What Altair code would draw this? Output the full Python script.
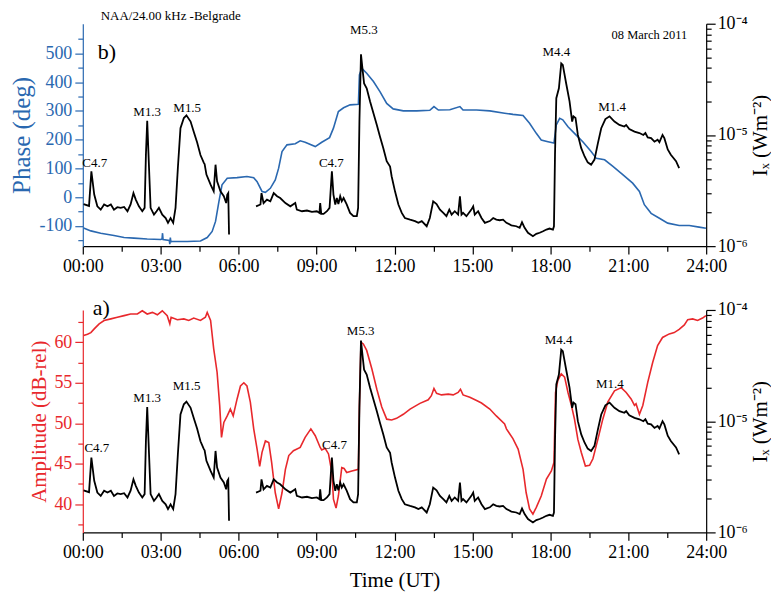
import altair as alt
import pandas as pd

SERIF = "Liberation Serif"
BLUE = "#2a68b0"
RED = "#e8282c"

# ---- GOES X-ray flux (units of 1e-6 W m^-2); data gap 05:38-06:40 ----
xray_t1 = [0.03,0.24,0.33,0.44,0.56,0.69,0.82,0.95,1.08,1.20,1.33,1.46,1.59,1.72,1.84,1.95,2.04,2.16,2.29,2.38,
           2.43,2.48,2.55,2.61,2.74,2.84,2.93,3.06,3.19,3.28,3.38,3.48,3.57,3.66,3.76,3.89,3.99,4.15,4.28,4.40,
           4.53,4.66,4.69,4.76,4.92,5.04,5.11,5.17,5.30,5.43,5.52,5.56,5.60,5.63]
xray_f1 = [2.39,2.30,4.70,2.91,2.28,2.13,2.37,2.28,2.37,2.13,2.24,2.21,2.25,2.06,2.37,3.00,2.62,2.28,2.06,2.21,
           6.64,13.4,5.04,2.21,1.92,2.06,2.21,1.92,1.79,1.62,1.79,1.62,2.21,5.04,11.5,14.2,15.0,13.2,10.5,8.6,
           6.6,5.6,5.47,4.4,3.57,3.11,5.4,3.83,3.11,2.81,2.44,2.9,3.0,1.27]
xray_t2 = [6.67,6.84,6.88,6.96,7.09,7.22,7.35,7.48,7.60,7.80,7.99,8.18,8.24,8.44,8.63,8.82,9.01,9.11,9.14,9.18,
           9.27,9.40,9.50,9.59,9.65,9.72,9.78,9.84,9.91,9.97,10.04,10.16,10.29,10.42,10.55,10.60,10.65,10.71,10.78,10.83,
           10.93,11.06,11.19,11.32,11.44,11.57,11.70,11.83,11.89,12.02,12.15,12.28,12.40,12.60,12.79,12.92,13.05,13.24,13.36,13.49,
           13.62,13.75,13.88,14.00,14.11,14.20,14.32,14.45,14.52,14.58,14.64,14.77,14.96,15.03,15.09,15.22,15.35,15.48,15.67,15.80,
           15.92,16.05,16.18,16.31,16.50,16.69,16.82,16.91,17.01,17.14,17.33,17.46,17.59,17.72,17.85,17.97,18.10,18.14,18.18,18.23,
           18.33,18.42,18.48,18.61,18.74,18.84,18.89,18.97,19.06,19.19,19.32,19.44,19.57,19.70,19.83,19.96,20.12,20.28,20.47,20.66,
           20.85,20.92,21.04,21.24,21.43,21.58,21.66,21.75,21.88,22.01,22.13,22.20,22.32,22.39,22.52,22.64,22.84,22.96]
xray_f2 = [2.28,2.37,3.00,2.44,2.62,2.53,3.00,2.81,2.71,2.44,2.28,2.44,2.13,2.06,2.09,2.03,2.06,1.99,2.44,1.95,
           1.95,2.06,2.21,4.70,2.91,2.37,2.71,2.39,2.81,2.53,2.71,2.37,1.99,1.86,1.86,2.21,13.2,53.0,37.0,29.0,
           26.3,20.0,15.7,12.3,9.7,7.6,5.8,5.2,4.25,3.11,2.37,1.99,1.79,1.73,1.68,1.62,1.68,1.51,1.79,2.53,
           2.39,2.13,1.99,1.86,2.13,1.92,2.06,1.92,2.81,1.92,1.99,1.86,2.13,2.28,1.92,2.06,1.79,1.62,1.68,1.79,
           1.73,1.71,1.73,1.62,1.54,1.51,1.46,1.64,1.46,1.32,1.23,1.29,1.32,1.36,1.41,1.44,1.41,1.51,6.64,21.4,
           26.3,44.0,42.6,29.0,20.0,13.2,14.7,14.2,10.0,7.6,6.4,5.67,5.4,6.0,8.4,11.5,13.9,14.7,13.2,12.3,
           11.9,12.3,11.3,10.7,10.4,10.0,10.4,9.5,9.36,8.7,9.06,8.6,10.0,9.36,7.4,6.64,5.8,5.04]

# ---- VLF phase (deg) ----
phase_t = [0.03,0.31,0.69,1.20,1.59,1.97,2.48,3.00,3.05,3.07,3.09,3.33,3.35,3.37,3.39,3.44,4.02,4.53,4.79,4.98,
           5.11,5.24,5.36,5.56,5.94,6.32,6.58,6.71,6.90,7.03,7.22,7.41,7.54,7.67,7.86,8.18,8.37,8.56,8.95,9.20,
           9.50,9.65,9.84,10.04,10.29,10.61,10.65,10.74,10.93,11.19,11.44,11.70,11.95,12.34,12.86,13.36,13.52,13.69,14.13,14.52,
           14.64,15.16,15.67,16.24,16.56,16.95,17.20,17.46,17.65,17.91,18.14,18.23,18.36,18.48,18.68,18.93,19.25,19.57,19.77,20.09,
           20.41,20.80,21.17,21.43,21.62,21.88,22.20,22.52,22.96,23.35,23.73,23.99]
phase_v = [-107,-117,-125,-133,-140,-142,-145,-147,-145,-125,-147,-150,-163,-140,-155,-154,-154,-152,-140,-119,
           -84,-15,43,66,68,72,68,54,20,17,31,60,101,159,182,186,196,191,176,191,
           207,240,298,311,321,323,425,448,431,402,367,326,307,300,300,302,315,303,304,315,
           303,303,300,292,288,284,257,222,199,193,188,251,274,269,245,222,193,159,135,130,
           107,78,49,20,-26,-56,-73,-90,-98,-98,-104,-108]

# ---- VLF amplitude (dB-rel) ----
amp_t = [0.03,0.18,0.31,0.44,0.63,0.82,1.08,1.33,1.59,1.84,2.10,2.29,2.48,2.68,2.87,3.06,3.25,3.35,3.40,3.64,
         3.89,4.08,4.27,4.53,4.72,4.79,4.92,5.04,5.17,5.27,5.34,5.43,5.56,5.68,5.79,5.94,6.07,6.20,6.32,6.45,
         6.58,6.71,6.81,6.90,7.03,7.16,7.27,7.41,7.54,7.67,7.80,7.93,8.11,8.37,8.56,8.78,8.95,9.14,9.20,9.33,
         9.46,9.59,9.65,9.75,9.84,9.97,10.06,10.16,10.36,10.61,10.65,10.71,10.80,10.93,11.13,11.32,11.51,11.70,11.89,12.08,
         12.34,12.60,12.98,13.30,13.42,13.52,13.62,13.81,14.07,14.26,14.45,14.54,14.64,14.90,15.16,15.35,15.67,15.92,16.24,16.31,
         16.56,16.76,16.95,17.07,17.20,17.33,17.46,17.65,17.85,18.04,18.14,18.20,18.29,18.42,18.55,18.68,18.81,18.93,19.06,19.19,
         19.35,19.51,19.64,19.83,20.02,20.21,20.47,20.73,20.92,21.11,21.24,21.30,21.43,21.56,21.75,21.94,22.13,22.32,22.58,22.77,
         22.96,23.16,23.29,23.48,23.67,23.86,23.99]
amp_v = [60.83,61.0,61.2,61.66,62.28,62.7,62.9,63.1,63.3,63.5,63.5,63.9,63.5,63.7,63.4,63.9,63.3,62.3,63.1,62.8,
         62.9,62.7,63.0,62.7,63.1,63.7,62.7,59.2,56.3,52.2,48.25,50.1,50.9,51.75,50.9,53.0,54.6,55.0,54.6,52.6,
         49.3,46.8,44.65,46.4,47.8,47.6,45.15,41.4,39.4,41.4,44.3,46.0,46.6,47.0,48.25,49.3,48.45,47.0,46.7,46.9,
         46.2,43.9,40.6,39.5,41.0,44.5,44.4,43.9,44.1,44.3,52.2,60.0,59.8,59.0,56.7,54.2,52.0,50.5,50.4,50.6,
         51.1,51.75,52.45,52.9,53.4,54.3,53.7,53.5,53.6,53.5,53.8,54.2,53.5,53.2,52.8,52.5,51.75,50.9,49.9,49.3,
         48.1,46.8,44.3,41.4,39.4,38.76,39.6,41.0,43.1,44.1,45.15,53.8,55.3,56.1,55.7,53.8,52.2,50.5,48.0,46.4,
         44.7,44.8,45.6,48.0,50.5,52.6,54.0,54.4,53.8,53.0,52.2,52.4,51.1,52.2,55.05,57.5,59.6,60.6,61.04,61.2,
         61.6,62.15,62.8,62.9,62.7,63.0,63.3]

# ---- flare labels (time, flux position of label in 1e-6 W m^-2) ----
flare_names = ["C4.7", "M1.3", "M1.5", "C4.7", "M5.3", "M4.4", "M1.4"]
flare_top_t = [0.46, 2.48, 4.02, 9.57, 10.82, 18.23, 20.38]
flare_top_f = [5.55, 16.1, 17.3, 5.6, 87.8, 56.0, 17.7]
flare_bot_t = [0.54, 2.48, 4.00, 9.69, 10.70, 18.32, 20.29]
flare_bot_f = [5.68, 16.2, 20.8, 6.1, 64.4, 53.5, 21.8]

hour_ticks = [1.5 * i for i in range(17)]
phase_ticks = list(range(-150, 551, 50))
amp_ticks = [37.5 + 2.5 * i for i in range(11)]
flux_ticks = [m * 10.0 ** e for e in (-6, -5) for m in range(1, 10)] + [1e-4]

# ---- data frames ----
xray_df = pd.DataFrame({
    "t": xray_t1 + xray_t2,
    "flux": [v * 1e-6 for v in xray_f1 + xray_f2],
    "seg": ["a"] * len(xray_t1) + ["b"] * len(xray_t2),
})
phase_df = pd.DataFrame({"t": phase_t, "phase": phase_v})
amp_df = pd.DataFrame({"t": amp_t, "amp": amp_v})
flare_top_df = pd.DataFrame({"t": flare_top_t, "flux": [v * 1e-6 for v in flare_top_f], "name": flare_names})
flare_bot_df = pd.DataFrame({"t": flare_bot_t, "flux": [v * 1e-6 for v in flare_bot_f], "name": flare_names})
one = pd.DataFrame({"k": [0]})

MAJOR_FLUX = "datum.value == 0.000001 || datum.value == 0.00001 || datum.value == 0.0001"
FONTS = dict(labelFont=SERIF, titleFont=SERIF, titleFontWeight="normal")


def xenc(title=None):
    ax = dict(
        values=hour_ticks,
        labelExpr="datum.value % 3 == 0 ? (datum.value < 10 ? '0' : '') + datum.value + ':00' : ''",
        tickSize={"condition": {"test": "datum.value % 3 == 0", "value": 8}, "value": 5},
        labelFontSize=18, labelPadding=3, labelFlush=False, labelOverlap=False,
        titleFontSize=21, titlePadding=8,
        title=title if title else "",
        **FONTS,
    )
    return alt.X("t:Q", scale=alt.Scale(domain=[0, 24], nice=False, zero=False), axis=alt.Axis(**ax))


yflux = alt.Y(
    "flux:Q",
    scale=alt.Scale(type="log", domain=[1e-6, 1e-4], nice=False),
    axis=alt.Axis(
        orient="right", values=flux_ticks,
        labelExpr="datum.value == 0.000001 ? '10⁻⁶' : datum.value == 0.00001 ? '10⁻⁵' : datum.value == 0.0001 ? '10⁻⁴' : ''",
        tickSize={"condition": {"test": MAJOR_FLUX, "value": 9}, "value": 5},
        labelFontSize=18, labelPadding=2, labelOverlap=False, labelFlush=False,
        title="Iₓ (Wm⁻²)", titleFontSize=21, titleAngle=270, titleBaseline="top", titlePadding=2,
        **FONTS,
    ),
)


def panel(left_df, field, yscale_domain, yticks, label_expr, major_test, color, ytitle, title_size,
          flare_df, xtitle, annotations):
    left = alt.Chart(left_df).mark_line(color=color, strokeWidth=1.6).encode(
        x=xenc(xtitle),
        y=alt.Y(f"{field}:Q", scale=alt.Scale(domain=yscale_domain, nice=False, zero=False),
                axis=alt.Axis(orient="left", values=yticks, labelExpr=label_expr,
                              tickSize={"condition": {"test": major_test, "value": 8}, "value": 5},
                              domainColor=color, tickColor=color, labelColor=color, titleColor=color,
                              labelFontSize=18, labelPadding=3, labelOverlap=False, labelFlush=False,
                              title=ytitle, titleFontSize=title_size, titlePadding=4, **FONTS)),
    )
    flux = alt.Chart(xray_df).mark_line(color="black", strokeWidth=1.8).encode(
        x=xenc(xtitle), y=yflux, detail="seg:N")
    flares = alt.Chart(flare_df).mark_text(font=SERIF, fontSize=13, color="black", baseline="middle").encode(
        x=xenc(xtitle), y=yflux, text="name:N")
    return alt.layer(left, alt.layer(flux, flares, *annotations)).resolve_scale(y="independent").properties(
        width=625, height=223)


def note(text, x, y, size, align="left"):
    return alt.Chart(one).mark_text(text=text, font=SERIF, fontSize=size, align=align, baseline="middle",
                                    color="black").encode(x=alt.value(x), y=alt.value(y))


top = panel(phase_df, "phase", [-170, 603], phase_ticks,
            "datum.value % 100 == 0 ? '' + datum.value : ''", "datum.value % 100 == 0",
            BLUE, "Phase (deg)", 25, flare_top_df, None,
            [note("b)", 15, 28, 22), note("NAA/24.00 kHz -Belgrade", 18, -8, 13),
             note("08 March 2011", 606, 11, 12.5, "right")])

bottom = panel(amp_df, "amp", [36.5, 64.0], amp_ticks,
               "datum.value % 5 == 0 ? '' + datum.value : ''", "datum.value % 5 == 0",
               RED, "Amplitude (dB-rel)", 21, flare_bot_df, "Time (UT)",
               [note("a)", 10, -2, 22)])

chart = alt.vconcat(top, bottom, spacing=64, bounds="flush").properties(
    padding={"left": 1, "top": 0, "right": 0, "bottom": 0}
).configure_view(stroke="transparent").configure_axis(
    grid=False, domainColor="black", tickColor="black",
    labelColor="black", titleColor="black", domainWidth=1.2, tickWidth=1.2,
)

chart.save("out.html", embed_options={"renderer": "svg", "actions": False})
